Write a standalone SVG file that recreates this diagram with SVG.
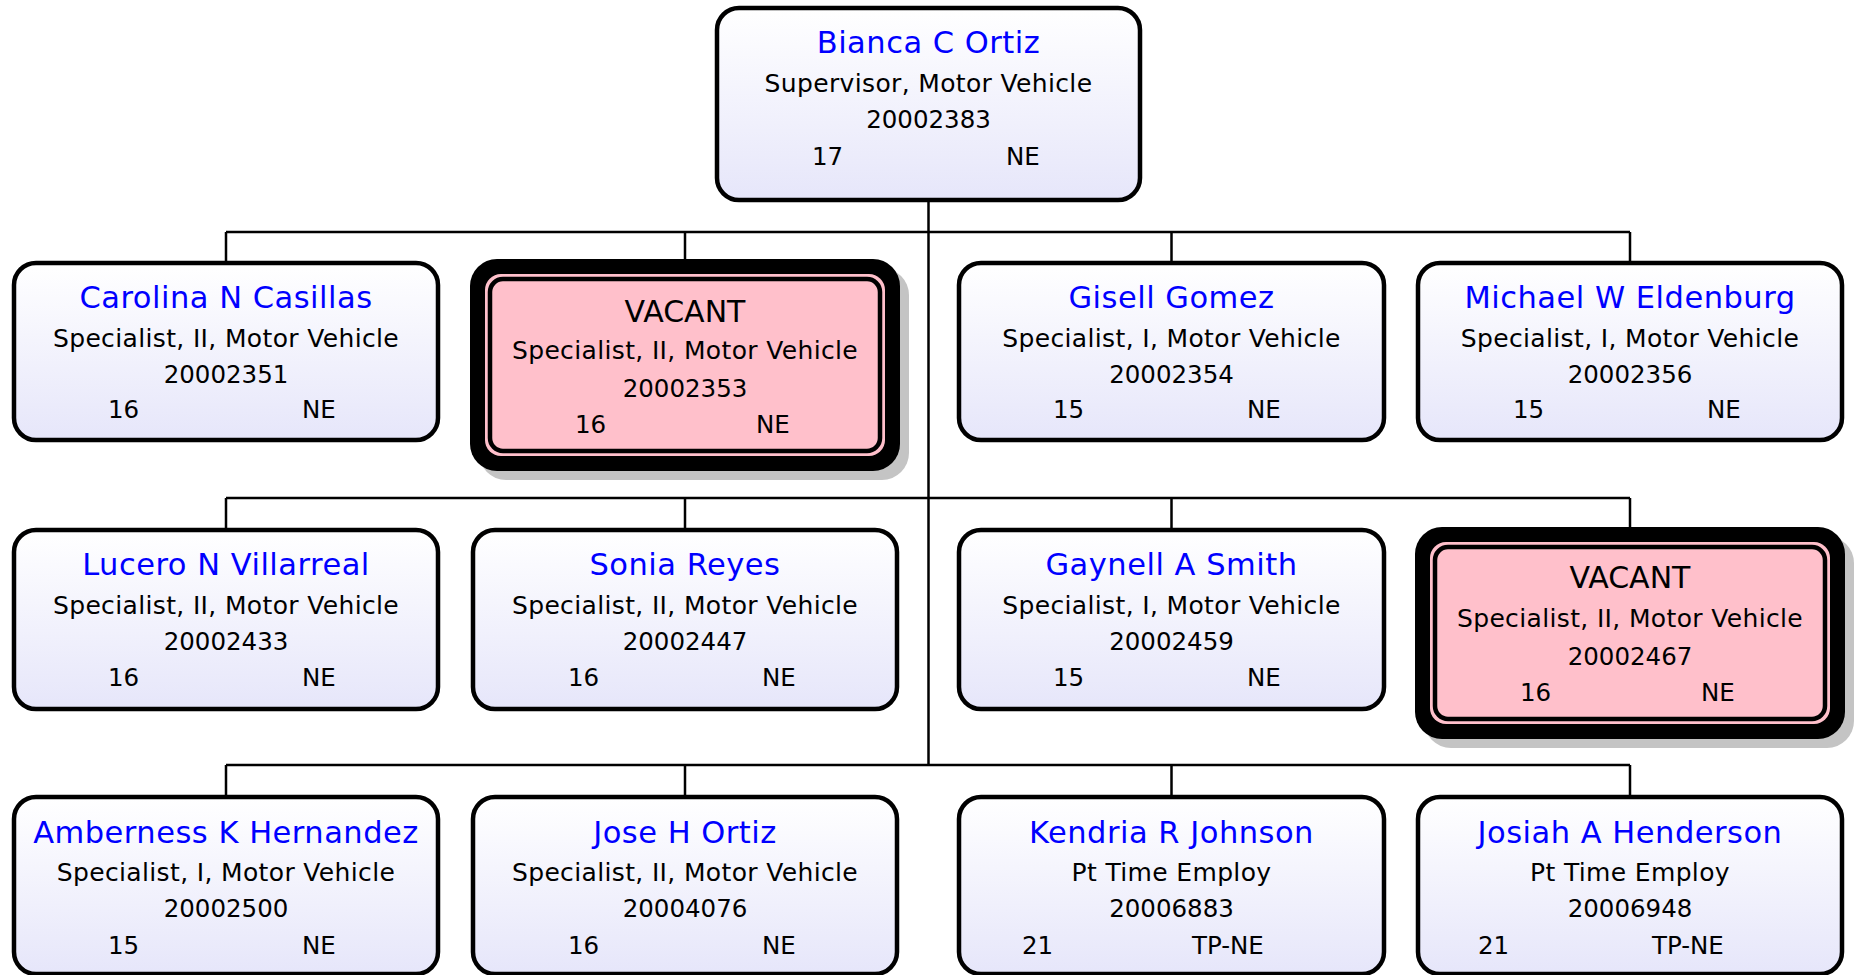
<svg xmlns="http://www.w3.org/2000/svg" width="1855" height="975" viewBox="0 0 1855 975">
<defs>
<linearGradient id="g" x1="0" y1="0" x2="0" y2="1">
<stop offset="0" stop-color="#ffffff"/>
<stop offset="1" stop-color="#e6e6fa"/>
</linearGradient>
<style>
.box{fill:url(#g);stroke:#000;stroke-width:4.5}
.sh{fill:#c4c4c4}
.vo{fill:#000}
.vp{fill:#ffc0cb}
.vi{fill:#ffc0cb;stroke:#000;stroke-width:4.5}
text{font-family:"DejaVu Sans","Verdana",sans-serif;fill:#000}
.nm{font-size:30.5px;letter-spacing:0.5px;fill:#0000ff;text-anchor:middle}
.va{font-size:30px;text-anchor:middle}
.t{font-size:25px;letter-spacing:0.35px;text-anchor:middle}
.n{font-size:24.5px;text-anchor:middle}
.g{font-size:24.5px}
.ln{fill:none;stroke:#000;stroke-width:2.5}
</style>
</defs>
<rect width="1855" height="975" fill="#fff"/>
<g id="connectors">
<path class="ln" d="M928.5 202V765"/>
<path class="ln" d="M226 232H1630M226 232V261M685 232V259M1171.5 232V261M1630 232V261"/>
<path class="ln" d="M226 498H1630M226 498V528M685 498V528M1171.5 498V528M1630 498V527"/>
<path class="ln" d="M226 765H1630M226 765V795M685 765V795M1171.5 765V795M1630 765V795"/>
</g>
<g id="n0">
<rect class="box" x="717" y="8" width="423" height="192" rx="22"/>
<text class="nm" x="928.5" y="53">Bianca C Ortiz</text>
<text class="t" x="928.5" y="92">Supervisor, Motor Vehicle</text>
<text class="n" x="928.5" y="128">20002383</text>
<text class="g" x="812" y="165">17</text><text class="g" x="1006" y="165">NE</text>
</g>
<g id="n1">
<rect class="box" x="14" y="263" width="424" height="177" rx="22"/>
<text class="nm" x="226" y="308">Carolina N Casillas</text>
<text class="t" x="226" y="347">Specialist, II, Motor Vehicle</text>
<text class="n" x="226" y="383">20002351</text>
<text class="g" x="108" y="418">16</text><text class="g" x="302" y="418">NE</text>
</g>
<g id="n2">
<rect class="sh" x="479" y="268" width="430" height="212" rx="27"/>
<rect class="vo" x="470" y="259" width="430" height="212" rx="27"/>
<rect class="vp" x="485" y="274" width="400" height="182" rx="16"/>
<rect class="vi" x="490" y="279" width="390" height="172" rx="13"/>
<text class="va" x="685" y="322">VACANT</text>
<text class="t" x="685" y="359">Specialist, II, Motor Vehicle</text>
<text class="n" x="685" y="397">20002353</text>
<text class="g" x="575" y="433">16</text><text class="g" x="756" y="433">NE</text>
</g>
<g id="n3">
<rect class="box" x="959" y="263" width="425" height="177" rx="22"/>
<text class="nm" x="1171.5" y="308">Gisell Gomez</text>
<text class="t" x="1171.5" y="347">Specialist, I, Motor Vehicle</text>
<text class="n" x="1171.5" y="383">20002354</text>
<text class="g" x="1053" y="418">15</text><text class="g" x="1247" y="418">NE</text>
</g>
<g id="n4">
<rect class="box" x="1418" y="263" width="424" height="177" rx="22"/>
<text class="nm" x="1630" y="308">Michael W Eldenburg</text>
<text class="t" x="1630" y="347">Specialist, I, Motor Vehicle</text>
<text class="n" x="1630" y="383">20002356</text>
<text class="g" x="1513" y="418">15</text><text class="g" x="1707" y="418">NE</text>
</g>
<g id="n5">
<rect class="box" x="14" y="530" width="424" height="179" rx="22"/>
<text class="nm" x="226" y="575">Lucero N Villarreal</text>
<text class="t" x="226" y="614">Specialist, II, Motor Vehicle</text>
<text class="n" x="226" y="650">20002433</text>
<text class="g" x="108" y="686">16</text><text class="g" x="302" y="686">NE</text>
</g>
<g id="n6">
<rect class="box" x="473" y="530" width="424" height="179" rx="22"/>
<text class="nm" x="685" y="575">Sonia Reyes</text>
<text class="t" x="685" y="614">Specialist, II, Motor Vehicle</text>
<text class="n" x="685" y="650">20002447</text>
<text class="g" x="568" y="686">16</text><text class="g" x="762" y="686">NE</text>
</g>
<g id="n7">
<rect class="box" x="959" y="530" width="425" height="179" rx="22"/>
<text class="nm" x="1171.5" y="575">Gaynell A Smith</text>
<text class="t" x="1171.5" y="614">Specialist, I, Motor Vehicle</text>
<text class="n" x="1171.5" y="650">20002459</text>
<text class="g" x="1053" y="686">15</text><text class="g" x="1247" y="686">NE</text>
</g>
<g id="n8">
<rect class="sh" x="1424" y="536" width="430" height="212" rx="27"/>
<rect class="vo" x="1415" y="527" width="430" height="212" rx="27"/>
<rect class="vp" x="1430" y="542" width="400" height="182" rx="16"/>
<rect class="vi" x="1435" y="547" width="390" height="172" rx="13"/>
<text class="va" x="1630" y="588">VACANT</text>
<text class="t" x="1630" y="627">Specialist, II, Motor Vehicle</text>
<text class="n" x="1630" y="665">20002467</text>
<text class="g" x="1520" y="701">16</text><text class="g" x="1701" y="701">NE</text>
</g>
<g id="n9">
<rect class="box" x="14" y="797" width="424" height="177" rx="22"/>
<text class="nm" x="226" y="843">Amberness K Hernandez</text>
<text class="t" x="226" y="881">Specialist, I, Motor Vehicle</text>
<text class="n" x="226" y="917">20002500</text>
<text class="g" x="108" y="954">15</text><text class="g" x="302" y="954">NE</text>
</g>
<g id="n10">
<rect class="box" x="473" y="797" width="424" height="177" rx="22"/>
<text class="nm" x="685" y="843">Jose H Ortiz</text>
<text class="t" x="685" y="881">Specialist, II, Motor Vehicle</text>
<text class="n" x="685" y="917">20004076</text>
<text class="g" x="568" y="954">16</text><text class="g" x="762" y="954">NE</text>
</g>
<g id="n11">
<rect class="box" x="959" y="797" width="425" height="177" rx="22"/>
<text class="nm" x="1171.5" y="843">Kendria R Johnson</text>
<text class="t" x="1171.5" y="881">Pt Time Employ</text>
<text class="n" x="1171.5" y="917">20006883</text>
<text class="g" x="1022" y="954">21</text><text class="g" x="1192" y="954">TP-NE</text>
</g>
<g id="n12">
<rect class="box" x="1418" y="797" width="424" height="177" rx="22"/>
<text class="nm" x="1630" y="843">Josiah A Henderson</text>
<text class="t" x="1630" y="881">Pt Time Employ</text>
<text class="n" x="1630" y="917">20006948</text>
<text class="g" x="1478" y="954">21</text><text class="g" x="1652" y="954">TP-NE</text>
</g>
</svg>
